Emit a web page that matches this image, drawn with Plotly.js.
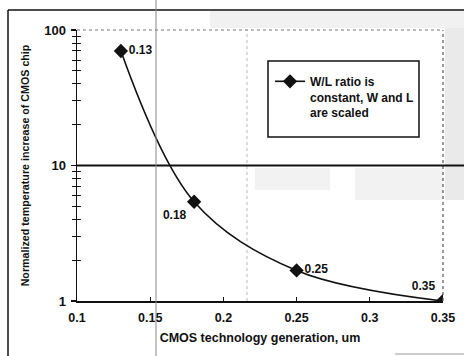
<!DOCTYPE html>
<html>
<head>
<meta charset="utf-8">
<script src="https://cdn.plot.ly/plotly-3.0.1.min.js"></script>
<style>html,body{margin:0;padding:0;background:#fff}#chart{width:464px;height:356px}</style>
</head>
<body>
<div id="chart"></div>
<script>
const generation = [0.13, 0.18, 0.25, 0.35];
const tempIncrease = [70, 5.4, 1.68, 1.0];
const pointLabels = ['0.13', '0.18', '0.25', '0.35'];
const labelPositions = ['middle right', 'bottom left', 'middle right', 'top left'];
const seriesName = 'W/L ratio is<br>constant, W and L<br>are scaled';
const xTicks = [0.1, 0.15, 0.2, 0.25, 0.3, 0.35];
const yTicks = [1, 10, 100];

const L = 77, R = 21, T = 30, B = 55, W = 464, H = 356;
const pw = W - L - R, ph = H - T - B;
const px = x => (x - L) / pw;
const py = y => (H - B - y) / ph;

const FAM = 'Liberation Sans, Arial, sans-serif';
const font = {family: FAM, color: '#111', size: 12, weight: 'bold'};

const trace = {
  x: generation, y: tempIncrease, text: pointLabels,
  type: 'scatter', mode: 'lines+markers+text',
  name: seriesName,
  line: {color: '#111', width: 1.6, shape: 'spline', smoothing: 1},
  marker: {symbol: 'diamond', size: 11, color: '#111'},
  textposition: labelPositions,
  textfont: {family: FAM, size: 12, color: '#111', weight: 'bold'}
};
// invisible companion so the crossing tick axis is drawn
const tickTrace = {
  x: generation, y: tempIncrease, yaxis: 'y2', type: 'scatter', mode: 'lines',
  line: {width: 0}, opacity: 0, showlegend: false, hoverinfo: 'skip'
};

const shapes = [
  {type: 'rect', xref: 'paper', yref: 'paper', x0: px(210), x1: px(464), y0: py(11), y1: py(28), fillcolor: 'rgba(150,150,150,0.13)', line: {width: 0}, layer: 'below'},
  {type: 'rect', xref: 'paper', yref: 'paper', x0: px(445), x1: px(464), y0: py(28), y1: py(200), fillcolor: 'rgba(150,150,150,0.2)', line: {width: 0}, layer: 'below'},
  {type: 'rect', xref: 'paper', yref: 'paper', x0: px(355), x1: px(443), y0: py(168), y1: py(200), fillcolor: 'rgba(150,150,150,0.12)', line: {width: 0}, layer: 'below'},
  {type: 'rect', xref: 'paper', yref: 'paper', x0: px(255), x1: px(330), y0: py(168), y1: py(190), fillcolor: 'rgba(150,150,150,0.12)', line: {width: 0}, layer: 'below'},
  {type: 'line', xref: 'paper', yref: 'paper', x0: px(8), x1: px(464), y0: py(10), y1: py(10), line: {color: '#111', width: 1.5}},
  {type: 'line', xref: 'paper', yref: 'paper', x0: px(8), x1: px(8), y0: py(10), y1: py(356), line: {color: '#111', width: 1.5}},
  {type: 'line', xref: 'paper', yref: 'paper', x0: px(395), x1: px(464), y0: py(354), y1: py(354), line: {color: '#999', width: 1}},
  {type: 'line', xref: 'paper', yref: 'paper', x0: 0, x1: 1, y0: 1, y1: 1, line: {color: '#777', width: 1, dash: 'dot'}},
  {type: 'line', xref: 'paper', yref: 'paper', x0: 1, x1: 1, y0: 0, y1: 1, line: {color: '#555', width: 1.2, dash: 'dot'}},
  {type: 'line', xref: 'paper', yref: 'paper', x0: px(247), x1: px(247), y0: 0, y1: 1, line: {color: '#bbb', width: 1, dash: 'dot'}, layer: 'below'},
  {type: 'line', xref: 'paper', yref: 'paper', x0: 0, x1: px(464), y0: 0.5, y1: 0.5, line: {color: '#111', width: 1.8}},
  {type: 'line', xref: 'paper', yref: 'paper', x0: px(156), x1: px(156), y0: py(0), y1: py(356), line: {color: '#888', width: 1}},
  {type: 'rect', xref: 'paper', yref: 'paper', x0: px(268), x1: px(419), y0: py(61), y1: py(137), fillcolor: '#fff', line: {color: '#111', width: 1.5}}
];

const layout = {
  width: W, height: H,
  margin: {l: L, r: R, t: T, b: B, pad: 0},
  paper_bgcolor: '#fff', plot_bgcolor: '#fff',
  font: font,
  showlegend: true,
  legend: {
    x: px(270), y: py(67), xanchor: 'left', yanchor: 'top', valign: 'top',
    bgcolor: 'rgba(0,0,0,0)', borderwidth: 0,
    font: {family: FAM, size: 12, color: '#111', weight: 'bold'},
    itemwidth: 30, tracegroupgap: 0
  },
  xaxis: {
    range: [0.1, 0.35], tickvals: xTicks, ticktext: xTicks.map(v => String(v)),
    showgrid: false, zeroline: false,
    showline: true, linecolor: '#111', linewidth: 1.5,
    ticks: 'inside', ticklen: 4, tickcolor: '#111', tickwidth: 1,
    ticklabelstandoff: 4,
    tickfont: {family: FAM, size: 12.5, color: '#111', weight: 'bold'},
    title: {text: 'CMOS technology generation, um', standoff: 9,
      font: {family: FAM, size: 12.5, color: '#111', weight: 'bold'}}
  },
  yaxis: {
    type: 'log', range: [0, 2], tickvals: yTicks, ticktext: yTicks.map(v => String(v)),
    showgrid: false, zeroline: false,
    showline: true, linecolor: '#111', linewidth: 1.5,
    ticks: 'outside', ticklen: 5, tickcolor: '#111', tickwidth: 1.5,
    ticklabelstandoff: 2,
    minor: {ticks: 'outside', ticklen: 4, tickcolor: '#111', tickwidth: 1, dtick: 'D1', showgrid: false},
    tickfont: {family: FAM, size: 13, color: '#111', weight: 'bold'},
    title: {text: 'Normalized temperature increase of CMOS chip', standoff: 12,
      font: {family: FAM, size: 10.7, color: '#111', weight: 'bold'}}
  },
  yaxis2: {
    type: 'log', range: [0, 2], overlaying: 'y', side: 'left',
    tickvals: yTicks, showticklabels: false,
    showgrid: false, zeroline: false, showline: false,
    ticks: 'inside', ticklen: 5, tickcolor: '#111', tickwidth: 1.5,
    minor: {ticks: 'inside', ticklen: 4, tickcolor: '#111', tickwidth: 1, dtick: 'D1', showgrid: false}
  },
  shapes: shapes
};

Plotly.newPlot('chart', [trace, tickTrace], layout, {displayModeBar: false, staticPlot: true});
</script>
</body>
</html>
